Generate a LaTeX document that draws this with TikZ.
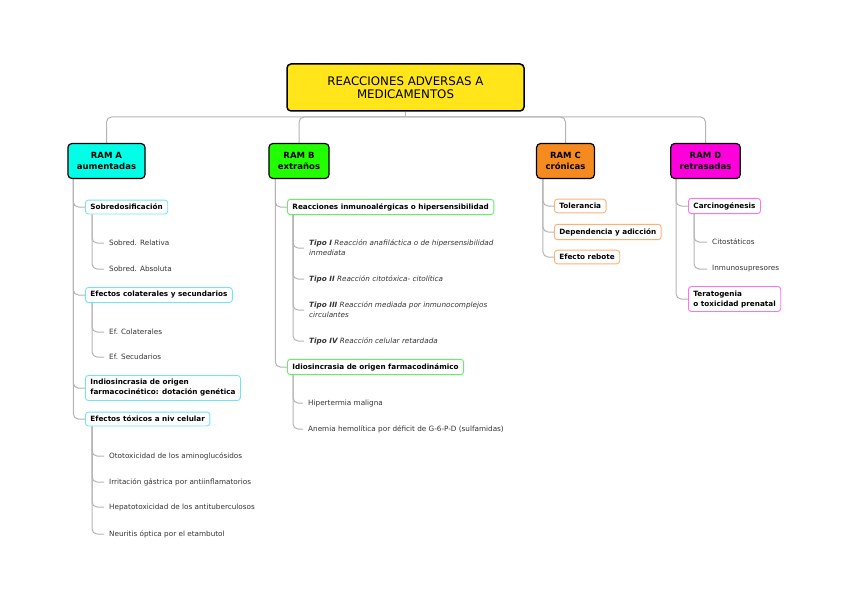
\documentclass[tikz,border=0pt]{standalone}
\usepackage{fontspec}
\setmainfont{DejaVu Sans}
\usepackage{xcolor}
\usepackage{tikz}
\usetikzlibrary{positioning,calc,backgrounds}

\definecolor{rootyellow}{HTML}{FFE51A}
\definecolor{ramA}{HTML}{00FFE6}
\definecolor{ramB}{HTML}{22FF00}
\definecolor{ramC}{HTML}{F58A1F}
\definecolor{ramD}{HTML}{FF00DD}
\definecolor{bordA}{HTML}{6FE6F5}
\definecolor{bordB}{HTML}{66EE66}
\definecolor{bordC}{HTML}{FFB070}
\definecolor{bordD}{HTML}{FF70F5}
\definecolor{linkgray}{HTML}{B4B4B4}
\definecolor{leafgray}{HTML}{333333}

\begin{document}
\begin{tikzpicture}[x=1pt,y=-1pt,
  root/.style={rectangle, draw, rounded corners=4pt, line width=1.5pt, fill=rootyellow,
    minimum width=237pt, minimum height=47pt, font=\fontsize{11.8}{12.5}\selectfont, align=center},
  ram/.style={rectangle, draw, rounded corners=4pt, line width=1.2pt, minimum height=35pt,
    inner xsep=9pt, font=\fontsize{8.5}{11}\selectfont\bfseries, align=center},
  item/.style={rectangle, draw, rounded corners=3pt, line width=0.9pt, fill=white, anchor=west,
    inner xsep=5pt, inner ysep=4pt, font=\fontsize{7.25}{10}\selectfont\bfseries, align=left},
  leaf/.style={anchor=west, inner xsep=5pt, inner ysep=1pt, text=leafgray,
    font=\fontsize{7.25}{10}\selectfont, align=left},
  link/.style={draw=linkgray, line width=1pt, rounded corners=5pt}
]
  \useasboundingbox (0,0) rectangle (848,599);

  \node[root] (root) at (405.5,87.5) {REACCIONES ADVERSAS A\\MEDICAMENTOS};
  \coordinate (bar) at (405.5,117);

  \node[ram, fill=ramA] (ramA) at (106.5,161) {RAM A\\aumentadas};
  \node[ram, fill=ramB] (ramB) at (299,161) {RAM B\\extraños};
  \node[ram, fill=ramC] (ramC) at (565.5,161) {RAM C\\crónicas};
  \node[ram, fill=ramD] (ramD) at (705.5,161) {RAM D\\retrasadas};

  \node[item, draw=bordA] (sobre) at (85,207) {Sobredosificación};
  \node[leaf] (sobRel) at (104,243) {Sobred. Relativa};
  \node[leaf] (sobAbs) at (104,269) {Sobred. Absoluta};
  \node[item, draw=bordA] (efcol) at (85,295) {Efectos colaterales y secundarios};
  \node[leaf] (efCol) at (104,332) {Ef. Colaterales};
  \node[leaf] (efSec) at (104,357) {Ef. Secudarios};
  \node[item, draw=bordA] (indio) at (85,388) {Indiosincrasia de origen\\farmacocinético: dotación genética};
  \node[item, draw=bordA] (tox) at (85,419) {Efectos tóxicos a niv celular};
  \node[leaf] (oto) at (104,456) {Ototoxicidad de los aminoglucósidos};
  \node[leaf] (irr) at (104,482) {Irritación gástrica por antiinflamatorios};
  \node[leaf] (hep) at (104,507) {Hepatotoxicidad de los antituberculosos};
  \node[leaf] (neu) at (104,534) {Neuritis óptica por el etambutol};

  \node[item, draw=bordB] (reac) at (287,207) {Reacciones inmunoalérgicas o hipersensibilidad};
  \node[leaf, font=\fontsize{7.25}{10}\selectfont\itshape] (tipoI) at (304,248)
    {\textbf{Tipo I} Reacción anafiláctica o de hipersensibilidad\\inmediata};
  \node[leaf, font=\fontsize{7.25}{10}\selectfont\itshape] (tipoII) at (304,279)
    {\textbf{Tipo II} Reacción citotóxica- citolítica};
  \node[leaf, font=\fontsize{7.25}{10}\selectfont\itshape] (tipoIII) at (304,310)
    {\textbf{Tipo III} Reacción mediada por inmunocomplejos\\circulantes};
  \node[leaf, font=\fontsize{7.25}{10}\selectfont\itshape] (tipoIV) at (304,341)
    {\textbf{Tipo IV} Reacción celular retardada};
  \node[item, draw=bordB] (idio) at (287,367) {Idiosincrasia de origen farmacodinámico};
  \node[leaf] (hiper) at (303,403) {Hipertermia maligna};
  \node[leaf] (anemia) at (303,429) {Anemia hemolítica por déficit de G-6-P-D (sulfamidas)};

  \node[item, draw=bordC] (tol) at (554,206) {Tolerancia};
  \node[item, draw=bordC] (dep) at (554,232) {Dependencia y adicción};
  \node[item, draw=bordC] (reb) at (554,257) {Efecto rebote};

  \node[item, draw=bordD] (carc) at (688,206) {Carcinogénesis};
  \node[leaf] (cito) at (707,242) {Citostáticos};
  \node[leaf] (inmu) at (707,269) {Inmunosupresores};
  \node[item, draw=bordD] (terat) at (688,299) {Teratogenia\\o toxicidad prenatal};

  \begin{scope}[on background layer]
    \draw[link] (root.south) -- (bar);
    \foreach \r in {ramA,ramB,ramC,ramD}
      \draw[link] (bar) -| (\r.north);
    \foreach \c in {sobre,efcol,indio,tox}
      \draw[link] ($(ramA.south west)+(6,0)$) |- (\c.west);
    \foreach \c in {sobRel,sobAbs}
      \draw[link] ($(sobre.south west)+(7,0)$) |- (\c.west);
    \foreach \c in {efCol,efSec}
      \draw[link] ($(efcol.south west)+(7,0)$) |- (\c.west);
    \foreach \c in {oto,irr,hep,neu}
      \draw[link] ($(tox.south west)+(7,0)$) |- (\c.west);
    \foreach \c in {reac,idio}
      \draw[link] ($(ramB.south west)+(7,0)$) |- (\c.west);
    \foreach \c in {tipoI,tipoII,tipoIII,tipoIV}
      \draw[link] ($(reac.south west)+(6,0)$) |- (\c.west);
    \foreach \c in {hiper,anemia}
      \draw[link] ($(idio.south west)+(6,0)$) |- (\c.west);
    \foreach \c in {tol,dep,reb}
      \draw[link] ($(ramC.south west)+(7,0)$) |- (\c.west);
    \foreach \c in {carc,terat}
      \draw[link] ($(ramD.south west)+(6,0)$) |- (\c.west);
    \foreach \c in {cito,inmu}
      \draw[link] ($(carc.south west)+(6,0)$) |- (\c.west);
  \end{scope}
\end{tikzpicture}
\end{document}
